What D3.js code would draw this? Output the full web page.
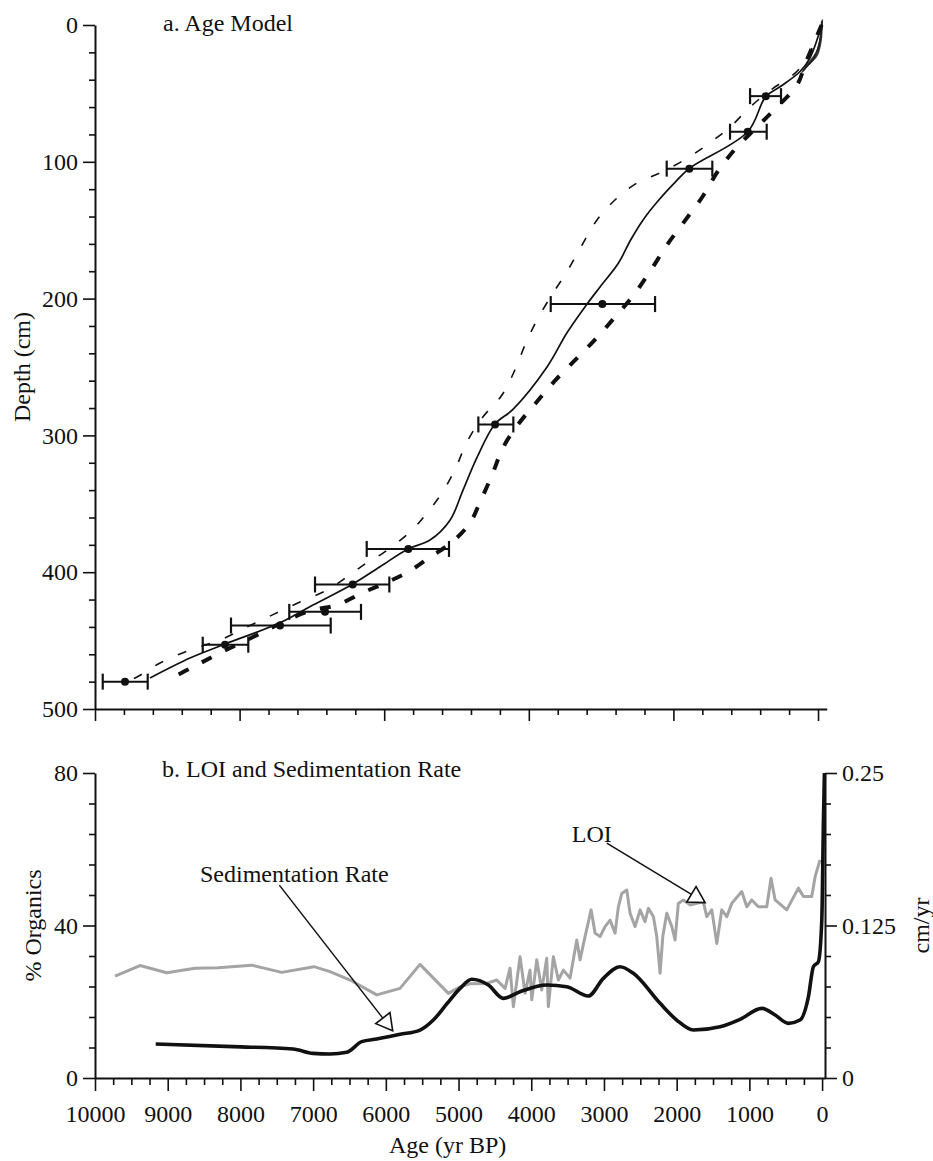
<!DOCTYPE html>
<html>
<head>
<meta charset="utf-8">
<script src="https://cdn.jsdelivr.net/npm/d3@7"></script>
<style>
  body { margin: 0; background: #fff; }
  svg { display: block; }
  text { font-family: "Liberation Serif", "Times New Roman", serif; fill: #111; }
</style>
</head>
<body>
<svg id="chart" width="933" height="1161"></svg>
<script>
// ---------- Panel a: radiocarbon dates (cal yr BP) with 2-sigma ranges ----------
const datedDepth = [52, 78, 105, 204, 292, 383, 409, 429, 439, 453, 480];
const datedAge   = [723, 972, 1780, 2983, 4467, 5667, 6436, 6819, 7441, 8202, 9585];
const ageErrLow  = [512, 710, 1462, 2254, 4214, 5104, 5929, 6321, 6740, 7880, 9271];
const ageErrHigh = [940, 1217, 2093, 3697, 4698, 6242, 6957, 7313, 8119, 8510, 9893];

// Best-fit age model
const modelAge   = [-50, 111, 249, 520, 723, 972, 1780, 1978, 2220, 2420, 2590, 2760, 3015, 3195, 3472, 3748, 4219, 4467, 4716, 4910, 5090, 5367, 5671, 6058, 6432, 6985, 7441, 8202, 8686, 9239];
const modelDepth = [0, 24, 34, 45, 52.4, 78, 104.8, 115, 129, 142.5, 157, 174, 191.5, 204, 225, 250, 281, 291.7, 316, 340, 362, 376.5, 383, 396, 408.6, 424, 437, 452.5, 462.7, 477.3];

// Older confidence bound (thin dashes)
const oldAge   = [-50, 166, 346, 636, 940, 1217, 1494, 1798, 2158, 2503, 2780, 3057, 3264, 3458, 3665, 3887, 4053, 4191, 4371, 4647, 4855, 5021, 5201, 5408, 5643, 6017, 6238, 6515, 6791, 7165, 7538, 7898, 8271, 8686, 9101, 9419, 9544];
const oldDepth = [0, 25.6, 36.5, 46.8, 60, 74.6, 86, 97, 107.5, 115.5, 126.5, 142.5, 160.8, 179, 196, 215.6, 234, 252, 270.5, 287.3, 304.8, 325, 342, 356.7, 370.6, 386, 393, 403.5, 413, 421.8, 431, 440, 449.6, 456.9, 466.4, 476.6, 479.5];

// Younger confidence bound (heavy dashes)
const youngAge   = [-50, 166, 290, 581, 858, 1134, 1383, 1591, 1840, 2089, 2310, 2559, 2808, 3084, 3361, 3638, 3914, 4163, 4357, 4509, 4675, 4813, 5062, 5367, 5671, 5989, 6307, 6653, 6985, 7344, 7649, 7953, 8271, 8589, 8921, 8990];
const youngDepth = [0, 27, 43.9, 60.7, 75.3, 90, 106.7, 125, 143, 160.8, 179, 198, 213.5, 230, 245, 260, 277, 293, 309, 329, 348.7, 364, 378, 389, 399.9, 408, 415.2, 424, 427.6, 435, 443, 451, 459, 467.8, 477.3, 481];

// Near-surface 210Pb model runs
const surfaceRunAge = [
  [-60, -40, 10, 90, 170],
  [-50, -25, 40, 120, 200],
  [-45, -15, 60, 150, 230],
  [-55, -30, 25, 105, 185],
  [-52, -20, 50, 135, 215]
];
const surfaceRunDepth = [
  [-4, 12, 22, 27, 31],
  [-3, 14, 23, 28, 33],
  [0, 16, 24, 30, 35],
  [-2, 10, 20, 26, 30],
  [-1, 13, 24, 29, 34]
];

const depthMajorTicks = [0, 100, 200, 300, 400, 500];
const ageMajorTicksA  = [10000, 8000, 6000, 4000, 2000, 0];

// ---------- Panel b: LOI and sedimentation rate ----------
const loiAge = [9725, 9381, 9014, 8624, 8308, 7845, 7432, 6988, 6768, 6492, 6125, 5805, 5530, 5140, 4979, 4842, 4612, 4475, 4360, 4292, 4246, 4154, 4085, 4017, 3993, 3924, 3856, 3787, 3765, 3696, 3627, 3558, 3466, 3374, 3329, 3260, 3177, 3122, 3054, 2985, 2916, 2847, 2802, 2755, 2686, 2641, 2572, 2503, 2435, 2389, 2320, 2274, 2228, 2191, 2136, 2067, 2022, 1977, 1908, 1816, 1724, 1633, 1586, 1517, 1448, 1380, 1311, 1242, 1105, 1036, 967, 876, 761, 702, 646, 486, 326, 257, 142, 96, 28];
const loiPct = [26.75, 29.5, 27.6, 28.8, 28.9, 29.6, 27.7, 29.2, 27.9, 25.7, 21.8, 23.5, 29.8, 22.2, 23.9, 24.7, 24.8, 25.7, 23.5, 28.8, 18.7, 31.8, 22.2, 28.3, 20.5, 31.0, 23.1, 31.4, 18.7, 31.8, 25.7, 28.3, 26.2, 36.2, 31.0, 37.1, 44.1, 38.0, 37.1, 39.7, 41.4, 38.0, 44.9, 48.4, 49.3, 43.2, 39.7, 44.1, 41.0, 44.5, 42.3, 37.1, 27.5, 37.1, 43.2, 39.7, 36.2, 45.8, 46.7, 45.4, 45.8, 46.2, 42.3, 44.1, 35.3, 44.1, 42.3, 45.8, 48.9, 44.9, 46.7, 44.9, 44.9, 52.4, 46.7, 44.1, 49.8, 47.6, 47.6, 52.8, 57.2];

const sedAge  = [9165, 8102, 7276, 7001, 6768, 6538, 6332, 6125, 5805, 5530, 5347, 5162, 4979, 4818, 4590, 4384, 4154, 3787, 3512, 3215, 3008, 2779, 2596, 2228, 2000, 1770, 1403, 1128, 829, 646, 463, 303, 188, 120, 51, 4, -18, -32];
const sedRate = [0.0279, 0.0257, 0.0238, 0.0202, 0.0197, 0.0211, 0.0298, 0.0320, 0.0358, 0.0393, 0.0475, 0.0607, 0.0735, 0.0809, 0.0762, 0.0653, 0.0707, 0.0762, 0.0748, 0.0672, 0.0817, 0.0912, 0.0858, 0.0612, 0.0475, 0.0393, 0.0420, 0.0481, 0.0571, 0.0516, 0.0448, 0.0475, 0.0666, 0.0912, 0.0953, 0.1295, 0.2088, 0.25];

const ageMajorTicksB = [10000, 9000, 8000, 7000, 6000, 5000, 4000, 3000, 2000, 1000, 0];
const loiMajorTicks  = [0, 40, 80];
const rateMajorTicks = [0, 0.125, 0.25];

// ---------- Scales ----------
const svg = d3.select("#chart");
const xA = d3.scaleLinear().domain([10000, -120]).range([95, 826.7]);
const yA = d3.scaleLinear().domain([0, 500]).range([25, 709]);
const xB = d3.scaleLinear().domain([10000, -40]).range([95, 825]);
const yL = d3.scaleLinear().domain([0, 80]).range([1078, 773]);
const yR = d3.scaleLinear().domain([0, 0.25]).range([1078, 773]);

const FS = 24;
function styleAxis(g, w) {
  g.select(".domain").attr("stroke", "#111").attr("stroke-width", w || 2);
  g.selectAll(".tick line").attr("stroke", "#111").attr("stroke-width", 1.6);
  g.selectAll("text").attr("font-size", FS).attr("fill", "#111");
}
function minorTicks(lo, hi, step, majors) {
  const out = [];
  for (let v = lo; v <= hi + 1e-9; v += step) {
    const r = Math.round(v * 1e6) / 1e6;
    if (!majors.some(m => Math.abs(m - r) < 1e-9)) out.push(r);
  }
  return out;
}

// ---------- Panel a axes ----------
svg.append("g").attr("transform", `translate(${xA(10000)},0)`)
  .call(d3.axisLeft(yA).tickValues(minorTicks(0, 500, 20, depthMajorTicks)).tickSize(6).tickSizeOuter(0).tickFormat(""))
  .call(g => styleAxis(g));
svg.append("g").attr("transform", `translate(${xA(10000)},0)`)
  .call(d3.axisLeft(yA).tickValues(depthMajorTicks).tickSize(12).tickSizeOuter(0).tickPadding(5))
  .call(g => { styleAxis(g); g.select(".domain").remove(); });

svg.append("g").attr("transform", `translate(0,${yA(500)})`)
  .call(d3.axisBottom(xA).tickValues(minorTicks(0, 10000, 400, ageMajorTicksA)).tickSize(6).tickSizeOuter(0).tickFormat(""))
  .call(g => styleAxis(g));
svg.append("g").attr("transform", `translate(0,${yA(500)})`)
  .call(d3.axisBottom(xA).tickValues(ageMajorTicksA).tickSize(12).tickSizeOuter(0).tickFormat(""))
  .call(g => { styleAxis(g); g.select(".domain").remove(); });

svg.append("text").attr("transform", `translate(30,${(yA(0) + yA(500)) / 2}) rotate(-90)`)
  .attr("text-anchor", "middle").attr("font-size", FS).text("Depth (cm)");
svg.append("text").attr("x", 163).attr("y", 31).attr("font-size", FS).text("a. Age Model");

// ---------- Panel a marks ----------
const lineA = (ages, depths) => d3.line()
  .x(i => xA(ages[i])).y(i => yA(depths[i]))
  .curve(d3.curveCatmullRom.alpha(0.5))(d3.range(ages.length));

surfaceRunAge.forEach((ages, k) => {
  svg.append("path").attr("d", lineA(ages, surfaceRunDepth[k]))
    .attr("fill", "none").attr("stroke", "#222").attr("stroke-width", 1.5).attr("opacity", 0.85);
});

svg.append("path").attr("d", lineA(oldAge, oldDepth))
  .attr("fill", "none").attr("stroke", "#111").attr("stroke-width", 1.6)
  .attr("stroke-dasharray", "9,16");
svg.append("path").attr("d", lineA(youngAge, youngDepth))
  .attr("fill", "none").attr("stroke", "#111").attr("stroke-width", 4)
  .attr("stroke-dasharray", "11,15");
svg.append("path").attr("d", lineA(modelAge, modelDepth))
  .attr("fill", "none").attr("stroke", "#111").attr("stroke-width", 1.7);

const dates = svg.append("g");
datedDepth.forEach((d, i) => {
  const y = yA(d), x0 = xA(ageErrHigh[i]), x1 = xA(ageErrLow[i]);
  dates.append("line").attr("x1", x0).attr("x2", x1).attr("y1", y).attr("y2", y)
    .attr("stroke", "#111").attr("stroke-width", 2);
  [x0, x1].forEach(x => dates.append("line").attr("x1", x).attr("x2", x)
    .attr("y1", y - 8).attr("y2", y + 8).attr("stroke", "#111").attr("stroke-width", 2.2));
  dates.append("circle").attr("cx", xA(datedAge[i])).attr("cy", y).attr("r", 4).attr("fill", "#111");
});

// ---------- Panel b axes ----------
svg.append("g").attr("transform", `translate(${xB(10000)},0)`)
  .call(d3.axisLeft(yL).tickValues(minorTicks(0, 80, 8, loiMajorTicks)).tickSize(6).tickSizeOuter(0).tickFormat(""))
  .call(g => styleAxis(g));
svg.append("g").attr("transform", `translate(${xB(10000)},0)`)
  .call(d3.axisLeft(yL).tickValues(loiMajorTicks).tickSize(12).tickSizeOuter(0).tickPadding(5))
  .call(g => { styleAxis(g); g.select(".domain").remove(); });

svg.append("g").attr("transform", `translate(${xB(-40)},0)`)
  .call(d3.axisRight(yR).tickValues(minorTicks(0, 0.25, 0.025, rateMajorTicks)).tickSize(6).tickSizeOuter(0).tickFormat(""))
  .call(g => styleAxis(g));
svg.append("g").attr("transform", `translate(${xB(-40)},0)`)
  .call(d3.axisRight(yR).tickValues(rateMajorTicks).tickSize(12).tickSizeOuter(0).tickPadding(5)
    .tickFormat(d => d === 0 ? "0" : String(d)))
  .call(g => { styleAxis(g); g.select(".domain").remove(); });

svg.append("g").attr("transform", `translate(0,${yL(0)})`)
  .call(d3.axisBottom(xB).tickValues(minorTicks(0, 10000, 250, ageMajorTicksB)).tickSize(7).tickSizeOuter(0).tickFormat(""))
  .call(g => styleAxis(g));
svg.append("g").attr("transform", `translate(0,${yL(0)})`)
  .call(d3.axisBottom(xB).tickValues(ageMajorTicksB).tickSize(13).tickSizeOuter(0).tickPadding(14).tickFormat(d3.format("d")))
  .call(g => { styleAxis(g); g.select(".domain").remove(); });

svg.append("text").attr("transform", `translate(41,${(yL(0) + yL(80)) / 2}) rotate(-90)`)
  .attr("text-anchor", "middle").attr("font-size", FS).text("% Organics");
svg.append("text").attr("transform", `translate(929,${(yR(0) + yR(0.25)) / 2}) rotate(-90)`)
  .attr("text-anchor", "middle").attr("font-size", FS).text("cm/yr");
svg.append("text").attr("x", xB(5150)).attr("y", 1153).attr("text-anchor", "middle")
  .attr("font-size", FS).text("Age (yr BP)");
svg.append("text").attr("x", 162).attr("y", 777).attr("font-size", FS).text("b. LOI and Sedimentation Rate");

// ---------- Panel b marks ----------
svg.append("path")
  .attr("d", d3.line().x(i => xB(loiAge[i])).y(i => yL(loiPct[i]))(d3.range(loiAge.length)))
  .attr("fill", "none").attr("stroke", "#a4a4a4").attr("stroke-width", 3).attr("stroke-linejoin", "round");

svg.append("path")
  .attr("d", d3.line().x(i => xB(sedAge[i])).y(i => yR(sedRate[i])).curve(d3.curveMonotoneX)(d3.range(sedAge.length)))
  .attr("fill", "none").attr("stroke", "#111").attr("stroke-width", 3.6).attr("stroke-linejoin", "round");

// ---------- Annotations (positioned in data units: age, % organics) ----------
const callouts = [
  { label: "Sedimentation Rate", textAge: 8556, textVal: 51.4, tailAge: 7465, tailVal: 50.6, tipAge: 5906, tipVal: 12.4 },
  { label: "LOI", textAge: 3443, textVal: 62.0, tailAge: 2961, tailVal: 61.6, tipAge: 1609, tipVal: 46.0 }
];
callouts.forEach(c => {
  svg.append("text").attr("x", xB(c.textAge)).attr("y", yL(c.textVal)).attr("font-size", FS).text(c.label);
  const tx = xB(c.tailAge), ty = yL(c.tailVal), hx = xB(c.tipAge), hy = yL(c.tipVal);
  const dx = hx - tx, dy = hy - ty, len = Math.hypot(dx, dy), ux = dx / len, uy = dy / len;
  const headLen = 16, half = 9;
  const bx = hx - ux * headLen, by = hy - uy * headLen;
  svg.append("line").attr("x1", tx).attr("y1", ty).attr("x2", bx).attr("y2", by)
    .attr("stroke", "#111").attr("stroke-width", 1.5);
  svg.append("path")
    .attr("d", `M${hx},${hy}L${bx - uy * half},${by + ux * half}L${bx + uy * half},${by - ux * half}Z`)
    .attr("fill", "#fff").attr("stroke", "#111").attr("stroke-width", 1.6);
});
</script>
</body>
</html>
